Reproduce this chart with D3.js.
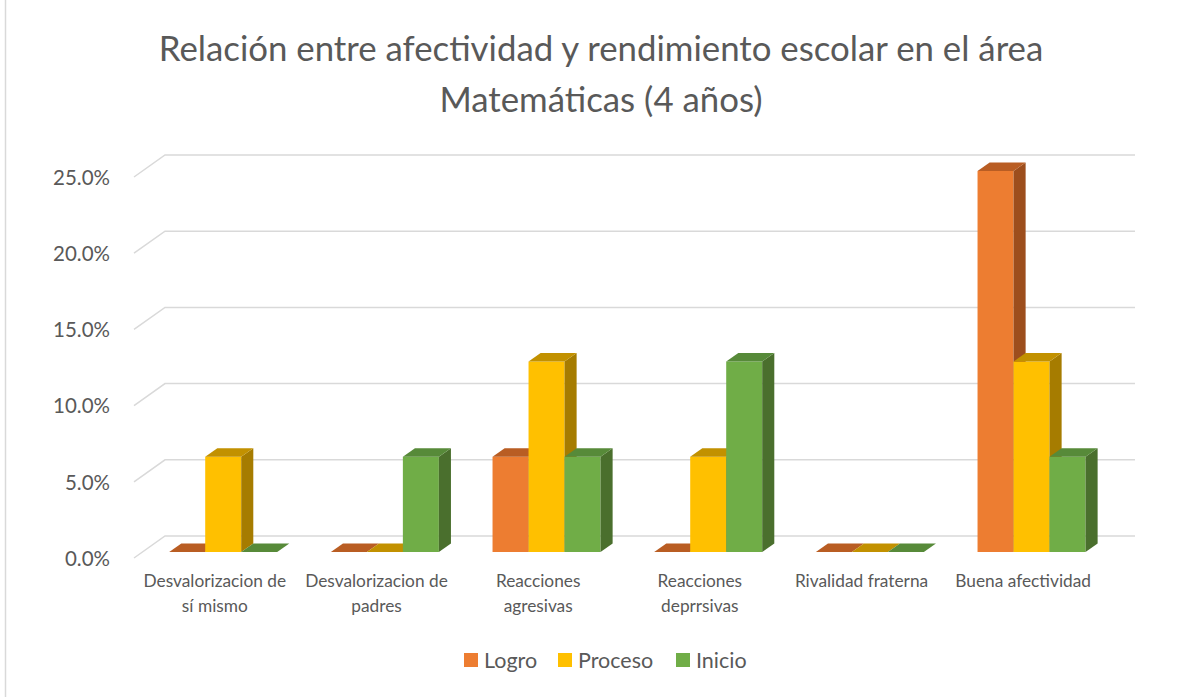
<!DOCTYPE html>
<html lang="es">
<head>
<meta charset="UTF-8">
<title>Relación entre afectividad y rendimiento escolar</title>
<script src="https://d3js.org/d3.v7.min.js"></script>
<style>
    body { margin: 0; padding: 0; background: #fff; }
    svg { display: block; font-family: Lato, "Open Sans", sans-serif; }
    .title { font-size: 34.8px; fill: #595959; }
    .ytick text { font-size: 20.5px; fill: #595959; }
    .cat { font-size: 17.3px; fill: #595959; }
    .legend text { font-size: 21.5px; fill: #595959; }
    .grid { fill: none; stroke: #d9d9d9; stroke-width: 1.5; }
</style>
</head>
<body>
<svg id="chart" width="1195" height="697"></svg>
<script>
// datos
const categories = ["Desvalorizacion de sí mismo", "Desvalorizacion de padres", "Reacciones agresivas",
    "Reacciones deprrsivas", "Rivalidad fraterna", "Buena afectividad"];
const categoryLines = [
    ["Desvalorizacion de", "sí mismo"],
    ["Desvalorizacion de", "padres"],
    ["Reacciones", "agresivas"],
    ["Reacciones", "deprrsivas"],
    ["Rivalidad fraterna"],
    ["Buena afectividad"]
];
const seriesNames = ["Logro", "Proceso", "Inicio"];
const logro   = [0, 0, 0.0625, 0, 0, 0.25];
const proceso = [0.0625, 0, 0.125, 0.0625, 0, 0.125];
const inicio  = [0, 0.0625, 0.0625, 0.125, 0, 0.0625];
const yTicks = [0, 0.05, 0.10, 0.15, 0.20, 0.25];
const titleLines = ["Relación entre afectividad y rendimiento escolar en el área", "Matemáticas (4 años)"];

const values = [logro, proceso, inicio];
// front, top, side
const colors = [
    ["#ed7d31", "#b95d23", "#9d4e1d"],
    ["#ffc000", "#c29100", "#a67c00"],
    ["#70ad47", "#578a39", "#4a6f2d"]
];

const svg = d3.select("#chart");

// borde del área del gráfico
svg.append("line")
    .attr("x1", 5.5).attr("x2", 5.5).attr("y1", 0).attr("y2", 697)
    .attr("stroke", "#d9d9d9").attr("stroke-width", 1.5);

// titulo
svg.append("text")
    .attr("class", "title")
    .attr("text-anchor", "middle")
    .selectAll("tspan")
    .data(titleLines)
    .enter().append("tspan")
    .attr("x", 601)
    .attr("y", (d, i) => 61 + i * 51)
    .text(d => d);

// escalas (plano frontal) + profundidad
const depthX = 31, depthY = 22;
const zFront = 0.27, zBack = 0.66;
const proj = (x, y, z) => [x + z * depthX, y - z * depthY];

const x0 = d3.scaleBand().domain(categories).range([134, 1104]);
const groupW = 108;
const x1 = d3.scaleBand().domain(seriesNames).range([0, groupW]);
const y = d3.scaleLinear().domain([0, 0.25]).range([558, 177]);

// lineas de cuadricula
svg.append("g")
    .selectAll("path")
    .data(yTicks)
    .enter().append("path")
    .attr("class", "grid")
    .attr("d", t => {
        const a = proj(134, y(t), 0), b = proj(134, y(t), 1), c = proj(1104, y(t), 1);
        return `M${a}L${b}L${c}`;
    });

// eje y
const yAxis = svg.append("g")
    .attr("class", "ytick")
    .attr("transform", "translate(118,0)")
    .call(d3.axisLeft(y).tickValues(yTicks).tickFormat(d3.format(".1%")).tickSize(0).tickPadding(8));
yAxis.select(".domain").remove();
yAxis.selectAll("text").attr("dy", "0.36em");
yAxis.attr("font-family", null).attr("font-size", null);

// barras 3D
const bars = [];
categories.forEach((c, ci) => {
    seriesNames.forEach((s, si) => {
        bars.push({ cat: c, ci: ci, si: si, v: values[si][ci] });
    });
});

const poly = pts => "M" + pts.map(p => p.join(",")).join("L") + "Z";

const barG = svg.append("g").selectAll("g")
    .data(bars)
    .enter().append("g");

barG.each(function (d) {
    const g = d3.select(this);
    const xl = x0(d.cat) + (x0.bandwidth() - groupW) / 2 + x1(seriesNames[d.si]);
    const xr = xl + x1.bandwidth();
    const yt = y(d.v), yb = y(0);
    const col = colors[d.si];
    g.append("path").attr("fill", col[0])
        .attr("d", poly([proj(xl, yt, zFront), proj(xr, yt, zFront), proj(xr, yb, zFront), proj(xl, yb, zFront)]));
    g.append("path").attr("fill", col[2])
        .attr("d", poly([proj(xr, yt, zFront), proj(xr, yt, zBack), proj(xr, yb, zBack), proj(xr, yb, zFront)]));
    g.append("path").attr("fill", col[1])
        .attr("d", poly([proj(xl, yt, zFront), proj(xr, yt, zFront), proj(xr, yt, zBack), proj(xl, yt, zBack)]));
});

// etiquetas de categoria
svg.append("g").selectAll("text")
    .data(categories)
    .enter().append("text")
    .attr("class", "cat")
    .attr("text-anchor", "middle")
    .each(function (c, i) {
        d3.select(this).selectAll("tspan")
            .data(categoryLines[i])
            .enter().append("tspan")
            .attr("x", x0(c) + x0.bandwidth() / 2)
            .attr("y", (d, j) => 587 + j * 25)
            .text(d => d);
    });

// leyenda
const legendX = [464, 558, 676];
const legend = svg.append("g").attr("class", "legend")
    .selectAll("g")
    .data(seriesNames)
    .enter().append("g")
    .attr("transform", (d, i) => `translate(${legendX[i]},653)`);
legend.append("rect").attr("width", 14).attr("height", 14).attr("fill", (d, i) => colors[i][0]);
legend.append("text").attr("x", 20).attr("y", 14.5).text(d => d);
</script>
</body>
</html>
